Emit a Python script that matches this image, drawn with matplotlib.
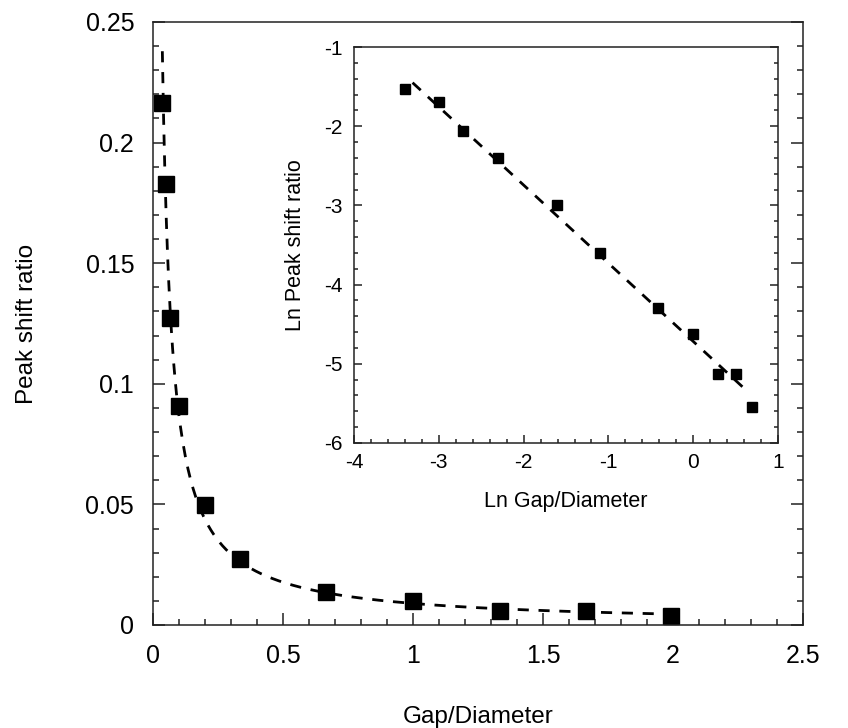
import numpy as np
import matplotlib
matplotlib.use("Agg")
import matplotlib.pyplot as plt
from matplotlib.ticker import MultipleLocator, FormatStrFormatter

plt.rcParams['font.family'] = ['Liberation Sans', 'DejaVu Sans']

# data (natural logs)
ln_gap = [-3.40, -3.00, -2.71, -2.30, -1.61, -1.10, -0.41, 0.00, 0.29, 0.51, 0.69]
ln_shift = [-1.53, -1.70, -2.06, -2.40, -3.00, -3.60, -4.29, -4.63, -5.13, -5.13, -5.55]

gap = np.exp(ln_gap)
shift = np.exp(ln_shift)

# power law fit, drawn dashed in both panels
slope, icpt = np.polyfit(ln_gap, ln_shift, 1)
xfit_ln = np.linspace(-3.31, 0.58, 100)
xfit = np.linspace(0.036, 2.0, 400)

fig = plt.figure(figsize=(8.48, 7.28), dpi=100)
ax = fig.add_axes([0.1804, 0.1415, 0.7665, 0.8283])

ax.plot(xfit, np.exp(icpt) * xfit ** slope, color='black', lw=2, dashes=(4, 3.5))
ax.plot(gap, shift, 's', color='black', ms=11.5)

ax.set_xlim(0, 2.5)
ax.set_ylim(0, 0.25)
ax.xaxis.set_major_locator(MultipleLocator(0.5))
ax.xaxis.set_minor_locator(MultipleLocator(0.1))
ax.yaxis.set_major_locator(MultipleLocator(0.05))
ax.yaxis.set_minor_locator(MultipleLocator(0.01))
ax.xaxis.set_major_formatter(plt.FuncFormatter(lambda v, p: ('%g' % v)))
ax.yaxis.set_major_formatter(plt.FuncFormatter(lambda v, p: ('%g' % v)))
ax.tick_params(which='both', direction='in', top=False, right=True, width=1.1, color='#222222')
ax.tick_params(which='major', length=8.5, labelsize=18)
ax.tick_params(axis='y', which='major', pad=13.5)
ax.tick_params(axis='x', which='major', pad=14)
ax.tick_params(which='minor', length=4.5)
for s in ax.spines.values():
    s.set_linewidth(1.1)
    s.set_color('#222222')
ax.set_xlabel('Gap/Diameter', fontsize=17.5, labelpad=27)
ax.set_ylabel('Peak shift ratio', fontsize=17.5, labelpad=34)

# inset
axi = fig.add_axes([0.4175, 0.3915, 0.5000, 0.5439])
axi.plot(xfit_ln, icpt + slope * xfit_ln, color='black', lw=2, dashes=(4, 3.5))
axi.plot(ln_gap, ln_shift, 's', color='black', ms=7.5)
axi.set_xlim(-4, 1)
axi.set_ylim(-6, -1)
axi.xaxis.set_major_locator(MultipleLocator(1))
axi.xaxis.set_minor_locator(MultipleLocator(0.2))
axi.yaxis.set_major_locator(MultipleLocator(1))
axi.yaxis.set_minor_locator(MultipleLocator(0.2))
axi.xaxis.set_major_formatter(FormatStrFormatter('%d'))
axi.yaxis.set_major_formatter(FormatStrFormatter('%d'))
axi.tick_params(which='both', direction='in', top=False, right=True, width=1.1, color='#222222')
axi.tick_params(which='major', length=6, labelsize=15)
axi.tick_params(axis='y', which='major', pad=8)
axi.tick_params(axis='x', which='major', pad=7)
axi.tick_params(which='minor', length=3)
for s in axi.spines.values():
    s.set_linewidth(1.1)
    s.set_color('#222222')
axi.set_xlabel('Ln Gap/Diameter', fontsize=15.5, labelpad=14)
axi.set_ylabel('Ln Peak shift ratio', fontsize=15.5, labelpad=13)

fig.savefig('out.png', dpi=100)
